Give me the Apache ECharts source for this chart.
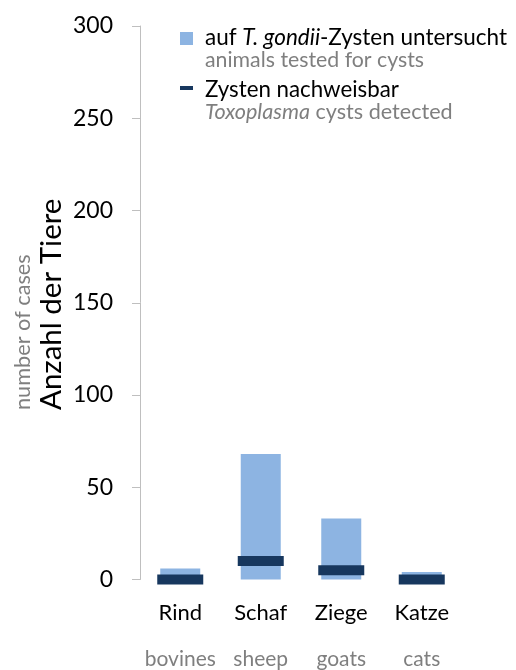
<!DOCTYPE html>
<html>
<head>
<meta charset="utf-8">
<script src="https://cdn.jsdelivr.net/npm/echarts@6/dist/echarts.min.js"></script>
<style>
  html, body { margin: 0; padding: 0; background: #fff; }
  #chart { width: 516px; height: 670px; }
</style>
</head>
<body>
<div id="chart"></div>
<script>
// Species (German / English)
const categoriesDe = ['Rind', 'Schaf', 'Ziege', 'Katze'];
const categoriesEn = ['bovines', 'sheep', 'goats', 'cats'];
// Animals examined for T. gondii cysts
const testedCounts = [6, 68, 33, 4];
// Animals in which cysts were found
const detectedCounts = [0, 10, 5, 0];
// Value axis ticks
const yMin = 0, yMax = 300, yStep = 50;

const FONT = 'Lato';
const BAR_BLUE = '#8DB4E2';
const NAVY = '#17375E';
const GREY = '#7F7F7F';

const chart = echarts.init(document.getElementById('chart'), null, { renderer: 'canvas' });

chart.setOption({
  animation: false,
  backgroundColor: '#ffffff',
  textStyle: { fontFamily: FONT },
  grid: { left: 140, right: 54, top: 26, bottom: 90 },
  xAxis: {
    type: 'category',
    data: categoriesDe,
    axisLine: { show: false },
    axisTick: { show: false },
    axisLabel: {
      interval: 0,
      hideOverlap: false,
      margin: 21,
      formatter: (v, i) => '{de|' + v + '}\n{en|' + categoriesEn[i] + '}',
      rich: {
        de: { fontFamily: FONT, fontSize: 22, color: '#000', lineHeight: 24 },
        en: { fontFamily: FONT, fontSize: 21, color: GREY, lineHeight: 70 }
      }
    }
  },
  yAxis: {
    type: 'value',
    min: yMin,
    max: yMax,
    interval: yStep,
    axisLine: { show: true, lineStyle: { color: '#BFBFBF', width: 1 } },
    axisTick: { show: true, inside: false, length: 8, lineStyle: { color: '#BFBFBF' } },
    splitLine: { show: false },
    axisLabel: { margin: 27, fontFamily: FONT, fontSize: 23, color: '#000' }
  },
  series: [
    {
      name: 'auf T. gondii-Zysten untersucht',
      type: 'bar',
      data: testedCounts,
      barWidth: 40,
      itemStyle: { color: BAR_BLUE },
      z: 2
    },
    {
      name: 'Zysten nachweisbar',
      type: 'scatter',
      data: detectedCounts,
      symbol: 'rect',
      symbolSize: [46, 10],
      itemStyle: { color: NAVY, opacity: 1 },
      z: 3
    }
  ],
  graphic: [
    // legend: tested
    { type: 'rect', left: 180, top: 32, shape: { width: 13, height: 13 }, style: { fill: BAR_BLUE } },
    {
      type: 'text', x: 205, y: 38,
      style: {
        text: '{n|auf }{i|T. gondii}{n|-Zysten untersucht}',
        verticalAlign: 'middle', align: 'left',
        rich: {
          n: { fontFamily: FONT, fontSize: 22.5, fill: '#000' },
          i: { fontFamily: FONT, fontSize: 22.5, fill: '#000', fontStyle: 'italic' }
        }
      }
    },
    {
      type: 'text', x: 205, y: 60,
      style: { text: 'animals tested for cysts', fontFamily: FONT, fontSize: 21.3, fill: GREY, verticalAlign: 'middle', align: 'left' }
    },
    // legend: detected
    { type: 'rect', left: 180, top: 86, shape: { width: 13, height: 4 }, style: { fill: NAVY } },
    {
      type: 'text', x: 205, y: 90,
      style: { text: 'Zysten nachweisbar', fontFamily: FONT, fontSize: 22.3, fill: '#000', verticalAlign: 'middle', align: 'left' }
    },
    {
      type: 'text', x: 205, y: 112,
      style: {
        text: '{i|Toxoplasma}{n| cysts detected}',
        verticalAlign: 'middle', align: 'left',
        rich: {
          n: { fontFamily: FONT, fontSize: 21.6, fill: GREY },
          i: { fontFamily: FONT, fontSize: 21.6, fill: GREY, fontStyle: 'italic' }
        }
      }
    },
    // value axis titles
    {
      type: 'text', x: 51, y: 410, rotation: Math.PI / 2,
      style: { text: 'Anzahl der Tiere', fontFamily: FONT, fontSize: 29.5, fill: '#000', align: 'left', verticalAlign: 'middle' }
    },
    {
      type: 'text', x: 23, y: 410, rotation: Math.PI / 2,
      style: { text: 'number of cases', fontFamily: FONT, fontSize: 21.7, fill: GREY, align: 'left', verticalAlign: 'middle' }
    }
  ]
});
</script>
</body>
</html>
